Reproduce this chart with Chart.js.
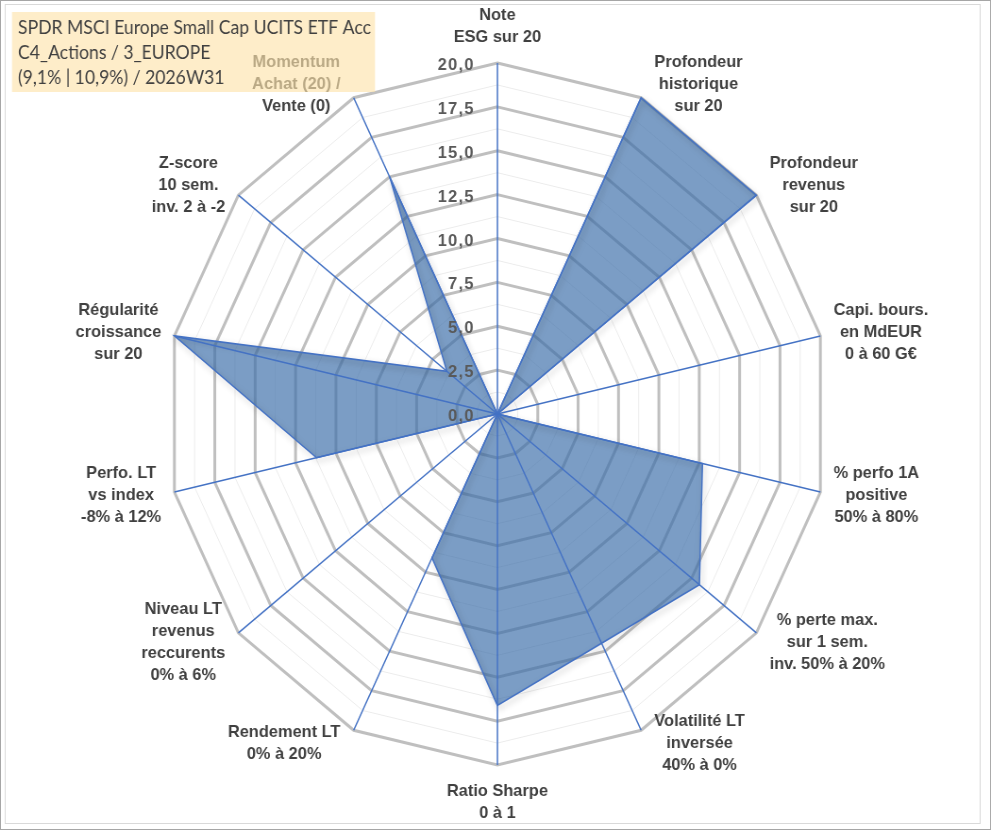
<!DOCTYPE html>
<html>
<head>
<meta charset="utf-8">
<script src="https://cdn.jsdelivr.net/npm/chart.js@4.4.1/dist/chart.umd.min.js"></script>
<style>
  html, body { margin: 0; padding: 0; background: #fff; overflow: hidden; }
  #wrap { width: 1050px; height: 830px; transform-origin: 0 0; }
</style>
</head>
<body>
<div id="wrap"><canvas id="radar" width="1050" height="830"></canvas></div>
<script>
var titleLines = [
  'SPDR MSCI Europe Small Cap UCITS ETF Acc',
  'C4_Actions / 3_EUROPE',
  '(9,1% | 10,9%) / 2026W31'
];

var axisLabels = [
  ['Note', 'ESG sur 20'],
  ['Profondeur', 'historique', 'sur 20'],
  ['Profondeur', 'revenus', 'sur 20'],
  ['Capi. bours.', 'en MdEUR', '0 à 60 G€'],
  ['% perfo 1A', 'positive', '50% à 80%'],
  ['% perte max.', 'sur 1 sem.', 'inv. 50% à 20%'],
  ['Volatilité LT', 'inversée', '40% à 0%'],
  ['Ratio Sharpe', '0 à 1'],
  ['Rendement LT', '0% à 20%'],
  ['Niveau LT', 'revenus', 'reccurents', '0% à 6%'],
  ['Perfo. LT', 'vs index', '-8% à 12%'],
  ['Régularité', 'croissance', 'sur 20'],
  ['Z-score', '10 sem.', 'inv. 2 à -2'],
  ['Momentum', 'Achat (20) /', 'Vente (0)']
];

var scores = [0, 20, 20, 0, 12.7, 15.6, 14.5, 16.6, 9.1, 0, 11.2, 20, 3.9, 15];

var scaleMin = 0;
var scaleMax = 20;
var majorStep = 2.5;
var minorStep = 1.25;

// the plot in the original is a bit narrower than it is tall:
// the canvas is drawn wider and squeezed, text is drawn un-squeezed
var squish = 991 / 1050;
document.getElementById('wrap').style.transform = 'scaleX(' + squish + ')';

function isMajor(v) {
  var q = v / majorStep;
  return Math.abs(q - Math.round(q)) < 1e-6;
}

function text(ctx, s, x, y, sx) {
  ctx.save();
  ctx.translate(x, y);
  ctx.scale((sx || 1) / squish, 1);
  ctx.fillText(s, 0, 0);
  ctx.restore();
}

var labelFont = 'bold 16.4px "Liberation Sans", Arial, sans-serif';

var overlay = {
  id: 'overlay',
  beforeDraw: function (chart) {
    var ctx = chart.ctx;
    ctx.save();
    ctx.strokeStyle = '#a6a6a6';
    ctx.lineWidth = 1;
    ctx.strokeRect(0.5, 0.5, chart.width - 1, chart.height - 1);
    ctx.strokeStyle = '#d9d9d9';
    ctx.strokeRect(5.5, 4.5, 1033, 819);
    ctx.restore();
  },
  beforeDatasetDraw: function (chart) {
    var ctx = chart.ctx;
    ctx.save();
    ctx.shadowColor = 'rgba(0,0,0,0.3)';
    ctx.shadowBlur = 6;
    ctx.shadowOffsetX = 2;
    ctx.shadowOffsetY = 3;
  },
  afterDatasetDraw: function (chart) {
    chart.ctx.restore();
  },
  afterDatasetsDraw: function (chart) {
    var r = chart.scales.r, ctx = chart.ctx;
    var outer = r.getDistanceFromCenterForValue(scaleMax);
    ctx.save();
    // spokes drawn over the filled area
    ctx.strokeStyle = '#4472C4';
    ctx.lineWidth = 1.5;
    axisLabels.forEach(function (_, i) {
      var p = r.getPointPosition(i, outer);
      ctx.beginPath();
      ctx.moveTo(r.xCenter, r.yCenter);
      ctx.lineTo(p.x, p.y);
      ctx.stroke();
    });
    // value labels, left of the vertical axis
    ctx.font = labelFont;
    ctx.letterSpacing = '1.3px';
    ctx.fillStyle = '#595959';
    ctx.textAlign = 'right';
    ctx.textBaseline = 'middle';
    r.ticks.forEach(function (t) {
      if (!isMajor(t.value)) return;
      var y = r.yCenter - r.getDistanceFromCenterForValue(t.value);
      text(ctx, t.value.toFixed(1).replace('.', ','), r.xCenter - 24, y + 2.5);
    });
    ctx.restore();
  },
  afterDraw: function (chart) {
    var r = chart.scales.r, ctx = chart.ctx;
    var outer = r.getDistanceFromCenterForValue(scaleMax);
    var lh = 22;
    ctx.save();
    ctx.font = labelFont;
    ctx.fillStyle = '#404040';
    ctx.textAlign = 'center';
    ctx.textBaseline = 'middle';
    axisLabels.forEach(function (lines, i) {
      var p = r.getPointPosition(i, outer);
      var a = r.getIndexAngle(i);
      var s = Math.sin(a), c = Math.cos(a);
      var w = Math.max.apply(null, lines.map(function (l) { return ctx.measureText(l).width; })) / squish;
      var h = lines.length * lh;
      var cx, cy;
      if (Math.abs(s) > 0.1) {
        cx = p.x + Math.sign(s) * (w / 2 + 14);
        cy = p.y - 15 * c;
      } else {
        cx = p.x;
        cy = p.y - c * (h / 2 + 15);
      }
      lines.forEach(function (l, k) {
        text(ctx, l, cx, cy - h / 2 + lh / 2 + k * lh);
      });
    });

    // title box, half transparent over the labels below it
    ctx.fillStyle = 'rgba(253,227,171,0.64)';
    ctx.fillRect(12 / squish, 12, 363 / squish, 80);
    ctx.font = '19.5px "Lato", "Open Sans", sans-serif';
    var sx = 353 / ctx.measureText(titleLines[0]).width;
    ctx.fillStyle = '#404040';
    ctx.textAlign = 'left';
    ctx.textBaseline = 'alphabetic';
    titleLines.forEach(function (t, k) {
      text(ctx, t, 18 / squish, 33.5 + k * 25, sx);
    });
    ctx.restore();
  }
};

new Chart('radar', {
  type: 'radar',
  data: {
    labels: axisLabels,
    datasets: [{
      data: scores,
      backgroundColor: 'rgba(60,110,170,0.68)',
      borderColor: '#4472C4',
      borderWidth: 1.5,
      pointRadius: 0,
      fill: 'origin'
    }]
  },
  options: {
    responsive: false,
    animation: false,
    layout: { padding: { top: 63, bottom: 65, left: 5, right: 0 } },
    plugins: {
      legend: { display: false },
      tooltip: { enabled: false }
    },
    scales: {
      r: {
        min: scaleMin,
        max: scaleMax,
        ticks: { display: false, stepSize: minorStep, maxTicksLimit: 40 },
        pointLabels: { display: false },
        angleLines: { display: false },
        grid: {
          circular: false,
          color: function (c) { return isMajor(c.tick.value) ? '#bfbfbf' : '#ececec'; },
          lineWidth: function (c) { return isMajor(c.tick.value) ? 3 : 1; }
        }
      }
    }
  },
  plugins: [overlay]
});
</script>
</body>
</html>
